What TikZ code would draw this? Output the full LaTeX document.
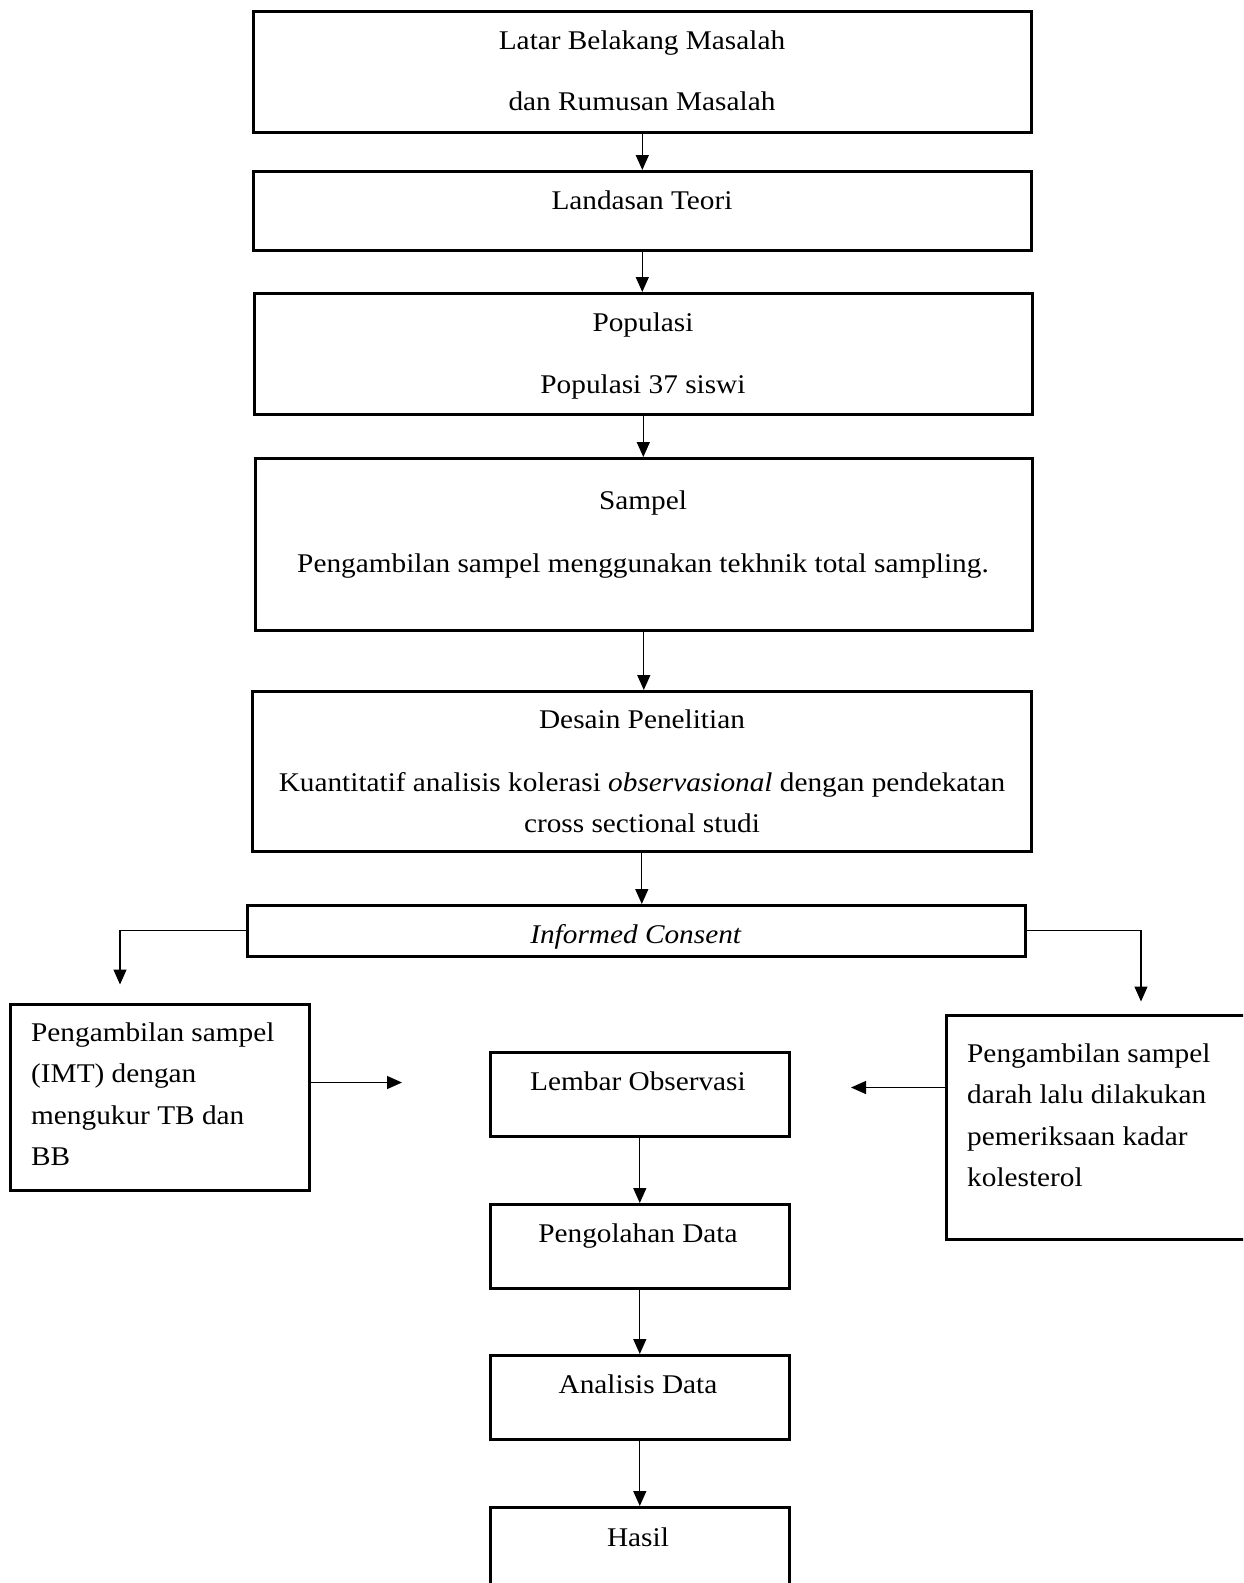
\documentclass[tikz,border=0pt]{standalone}
\usepackage{fontspec}
\setmainfont[FakeStretch=1.085]{Liberation Serif}
\usetikzlibrary{arrows.meta}

\begin{document}
\begin{tikzpicture}[x=1pt,y=-1pt,
    box/.style={draw, line width=2.6pt, inner sep=0pt, anchor=north west},
    txt/.style={anchor=base, inner sep=0pt, font=\fontsize{27}{41.5}\selectfont},
    par/.style={anchor=north, inner sep=0pt, font=\fontsize{27}{41.5}\selectfont},
    arr/.style={-{Triangle[length=15pt,width=13pt]}, line width=1.3pt}]
  \useasboundingbox (0,0) rectangle (1243,1583);
  \clip (0,0) rectangle (1243,1583);
  % boxes: name/left/top/width/height
  \foreach \n/\a/\b/\w/\h in {lb/252/10/778/121, lt/252/170/778/79, pop/253/292/778/121,
      smp/254/457/777/172, dsn/251/690/779/160, ic/246/904/778/51,
      imt/9/1003/299/186, drh/945/1014/305/224,
      lo/489/1051/299/84, pd/489/1203/299/84, ad/489/1354/299/84, hsl/489/1506/299/100}
    {\node[box, minimum width=\w pt, minimum height=\h pt] (\n) at (\a,\b) {};}
  % texts
  \node[txt] (lb1) at (642,49.5) {Latar Belakang Masalah};
  \node[txt] (lb2) at (642,110) {dan Rumusan Masalah};
  \node[txt] (lt1) at (642,209) {Landasan Teori};
  \node[txt] (pop1) at (643,331) {Populasi};
  \node[txt] (pop2) at (643,393) {Populasi 37 siswi};
  \node[txt] (smp1) at (643,509) {Sampel};
  \node[txt] (smp2) at (643,572.5) {Pengambilan sampel menggunakan tekhnik total sampling.};
  \node[txt] (dsn1) at (642,728) {Desain Penelitian};
  \node[par, align=center] (dsn2) at (642,772) {Kuantitatif analisis kolerasi \textit{observasional} dengan pendekatan\\cross sectional studi};
  \node[txt] (ic1) at (636,943) {\textit{Informed Consent}};
  \node[par, align=left, anchor=north west] (imt1) at (31,1022.5) {Pengambilan sampel\\(IMT) dengan\\mengukur TB dan\\BB};
  \node[par, align=left, anchor=north west] (drh1) at (967,1043.5) {Pengambilan sampel\\darah lalu dilakukan\\pemeriksaan kadar\\kolesterol};
  \node[txt] (lo1) at (638,1090.5) {Lembar Observasi};
  \node[txt] (pd1) at (638,1242) {Pengolahan Data};
  \node[txt] (ad1) at (638,1393.5) {Analisis Data};
  \node[txt] (hsl1) at (638,1546) {Hasil};
  % free ends
  \coordinate (ka) at (120,984.5);
  \coordinate (kb) at (1141,1001.5);
  \coordinate (kc) at (402,1082.5);
  \coordinate (kd) at (851,1087.5);
  % connectors
  \draw[arr] (lb.south) -- (lb.south |- lt.north);
  \draw[arr] (lt.south) -- (lt.south |- pop.north);
  \draw[arr] (pop.south) -- (pop.south |- smp.north);
  \draw[arr] (smp.south) -- (smp.south |- dsn.north);
  \draw[arr] (dsn.south) -- (dsn.south |- ic.north);
  \draw[arr] (ic.west) -| (ka);
  \draw[arr] (ic.east) -| (kb);
  \draw[arr] (imt.east |- kc) -- (kc);
  \draw[arr] (drh.west |- kd) -- (kd);
  \draw[arr] (lo.south) -- (pd.north);
  \draw[arr] (pd.south) -- (ad.north);
  \draw[arr] (ad.south) -- (hsl.north);
\end{tikzpicture}
\end{document}
